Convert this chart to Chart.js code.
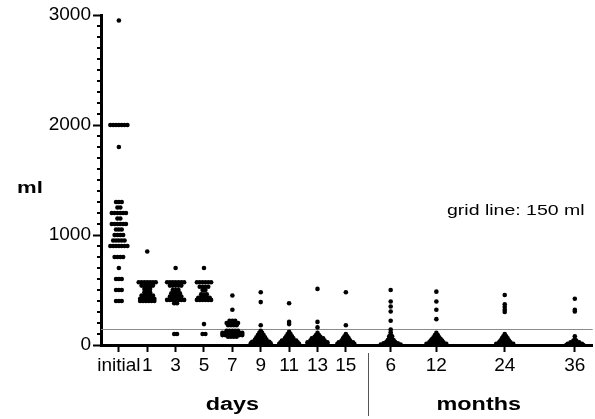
<!DOCTYPE html>
<html>
<head>
<meta charset="utf-8">
<script src="https://cdn.jsdelivr.net/npm/chart.js@4"></script>
<style>
  html, body { margin: 0; padding: 0; background: #fff; }
</style>
</head>
<body>
<canvas id="dotChart" width="595" height="419"></canvas>
<script>
// categories and where they sit along the x axis (day slots are evenly spaced, months are not)
var categories = ['initial', '1', '3', '5', '7', '9', '11', '13', '15', '6', '12', '24', '36'];
var xPos = [0, 1, 2, 3, 4, 5, 6, 7, 8, 9.58, 11.19, 13.6, 16.07];
var daysIdx = [0, 8];
var monthsIdx = [9, 12];

var yTicks = [0, 1000, 2000, 3000];
var refLine = 150;

// volumes in ml
var vInitial = [2950,
  2000, 2000, 2000, 2000, 2000, 2000, 2000,
  1800,
  1300, 1300, 1300,
  1250, 1250,
  1200, 1200, 1200, 1200, 1200, 1200,
  1150, 1150,
  1100, 1100, 1100, 1100, 1100, 1100,
  1050, 1050, 1050,
  1000, 1000, 1000, 1000,
  950, 950, 950, 950, 950,
  900, 900, 900, 900, 900, 900, 900,
  800, 800, 800, 800,
  700,
  600, 600, 600,
  500, 500, 500,
  400, 400, 400];
var vDay1 = [850,
  570, 570, 570, 570, 570, 570, 570,
  540, 540, 540, 540, 540,
  510, 510, 510,
  480, 480, 480,
  450, 450, 450, 450, 450,
  420, 420, 420, 420, 420, 420,
  400, 400, 400, 400, 400, 400];
var vDay3 = [700,
  570, 570, 570, 570, 570, 570, 570,
  540, 540, 540, 540, 540,
  500, 500, 500,
  470, 470, 470, 470,
  440, 440, 440, 440, 440,
  410, 410, 410, 410, 410, 410, 410,
  380, 380,
  100, 100];
var vDay5 = [700,
  570, 570, 570, 570, 570, 570,
  530, 530, 530, 530,
  500, 500,
  460, 460, 460,
  430, 430, 430, 430, 430,
  410, 410, 410, 410, 410, 410,
  190,
  100, 100];
var vDay7 = [450, 320,
  220, 220, 220,
  200, 200, 200, 200, 200,
  180, 180, 180, 180,
  130, 130, 130, 130, 130,
  110, 110, 110, 110, 110, 110, 110, 110,
  90, 90, 90, 90, 90, 90, 90, 90,
  75, 75, 75, 75];
var vDay9 = [480, 390, 180, 130,
  110, 110,
  90, 90, 90,
  70, 70, 70, 70,
  50, 50, 50, 50, 50,
  30, 30, 30, 30, 30, 30, 30,
  15, 15, 15, 15, 15, 15, 15, 15,
  0, 0, 0, 0, 0, 0];
var vDay11 = [380, 210, 190, 120,
  100, 100,
  80, 80, 80,
  60, 60, 60, 60,
  40, 40, 40, 40, 40, 40,
  25, 25, 25, 25, 25, 25, 25,
  10, 10, 10, 10, 10, 10, 10, 10,
  0, 0, 0, 0, 0];
var vDay13 = [510, 210, 160, 110,
  90, 90,
  75, 75, 75,
  60, 60, 60, 60, 60,
  40, 40, 40, 40, 40, 40,
  25, 25, 25, 25, 25, 25, 25, 25,
  10, 10, 10, 10, 10, 10, 10, 10,
  0, 0, 0, 0, 0];
var vDay15 = [480, 180, 100,
  80, 80,
  60, 60, 60,
  40, 40, 40, 40,
  25, 25, 25, 25, 25, 25,
  10, 10, 10, 10, 10, 10, 10,
  0, 0, 0, 0, 0, 0];
var vMonth6 = [500, 395, 350, 305, 220, 140, 115, 95,
  80, 80,
  60, 60,
  45, 45, 45,
  30, 30, 30, 30,
  15, 15, 15, 15, 15, 15,
  5, 5, 5, 5, 5, 5, 5, 5,
  0, 0, 0, 0, 0, 0];
var vMonth12 = [485, 395, 320, 235, 110,
  90, 90,
  70, 70, 70,
  55, 55, 55, 55,
  40, 40, 40, 40, 40,
  25, 25, 25, 25, 25, 25,
  10, 10, 10, 10, 10, 10, 10, 10,
  0, 0, 0, 0, 0, 0];
var vMonth24 = [455, 370, 345, 320, 300, 100,
  80, 80,
  60, 60, 60,
  40, 40, 40, 40,
  25, 25, 25, 25, 25,
  10, 10, 10, 10, 10, 10, 10,
  0, 0, 0, 0, 0, 0];
var vMonth36 = [420, 320, 305, 80, 50,
  40, 40,
  25, 25, 25, 25,
  10, 10, 10, 10, 10, 10,
  0, 0, 0, 0, 0, 0, 0];

var allValues = [vInitial, vDay1, vDay3, vDay5, vDay7, vDay9, vDay11, vDay13, vDay15,
  vMonth6, vMonth12, vMonth24, vMonth36];

var dotStep = 0.1; // horizontal spacing of equal values, in category units

// spread equal values side by side, centred on the category
function spread(xc, vals) {
  var counts = {}, seen = {}, out = [];
  vals.forEach(function (v) { counts[v] = (counts[v] || 0) + 1; });
  vals.forEach(function (v) {
    var i = seen[v] || 0;
    seen[v] = i + 1;
    out.push({ x: xc + (i - (counts[v] - 1) / 2) * dotStep, y: v });
  });
  return out;
}

var points = [];
allValues.forEach(function (vals, i) {
  points = points.concat(spread(xPos[i], vals));
});

var fontName = '"Liberation Sans", Arial, sans-serif';

// text that is a bit wider than the font, like in the original figure
function wideText(ctx, text, x, y, align, sx) {
  ctx.save();
  ctx.translate(x, y);
  ctx.scale(sx, 1);
  ctx.textAlign = align;
  ctx.fillText(text, 0, 0);
  ctx.restore();
}

var decor = {
  id: 'decor',
  beforeDatasetsDraw: function (chart) {
    var ctx = chart.ctx, y = chart.scales.y, a = chart.chartArea;
    ctx.save();
    // the 150 ml reference line
    var gy = Math.round(y.getPixelForValue(refLine)) + 0.5;
    ctx.strokeStyle = '#8a8a8a';
    ctx.lineWidth = 1;
    ctx.beginPath();
    ctx.moveTo(a.left, gy);
    ctx.lineTo(a.right, gy);
    ctx.stroke();
    // minor ticks every 100
    ctx.strokeStyle = '#000';
    ctx.lineWidth = 2;
    for (var v = 100; v < y.max; v += 100) {
      if (v % 1000 === 0) continue;
      var py = Math.round(y.getPixelForValue(v));
      ctx.beginPath();
      ctx.moveTo(a.left - 4, py);
      ctx.lineTo(a.left, py);
      ctx.stroke();
    }
    ctx.restore();
  },
  afterDraw: function (chart) {
    var ctx = chart.ctx, x = chart.scales.x, a = chart.chartArea;
    ctx.save();
    ctx.fillStyle = '#000';
    ctx.textBaseline = 'middle';

    ctx.font = 'bold 17px ' + fontName;
    wideText(ctx, 'ml', 17, 188, 'left', 1.3);

    ctx.font = '15px ' + fontName;
    wideText(ctx, 'grid line: 150 ml', 447, 211, 'left', 1.3);

    ctx.font = 'bold 18px ' + fontName;
    var dx = (x.getPixelForValue(xPos[daysIdx[0]]) + x.getPixelForValue(xPos[daysIdx[1]])) / 2;
    var mx = (x.getPixelForValue(xPos[monthsIdx[0]]) + x.getPixelForValue(xPos[monthsIdx[1]])) / 2;
    wideText(ctx, 'days', dx, 405, 'center', 1.3);
    wideText(ctx, 'months', mx - 4, 405, 'center', 1.3);

    // divider between days and months
    var sx = Math.round((x.getPixelForValue(xPos[daysIdx[1]]) + x.getPixelForValue(xPos[monthsIdx[0]])) / 2) + 0.5;
    ctx.strokeStyle = '#555';
    ctx.lineWidth = 1;
    ctx.beginPath();
    ctx.moveTo(sx, a.bottom + 8);
    ctx.lineTo(sx, 416);
    ctx.stroke();
    ctx.restore();
  }
};

var ctx = document.getElementById('dotChart').getContext('2d');
var myChart = new Chart(ctx, {
  type: 'scatter',
  data: {
    datasets: [{
      data: points,
      backgroundColor: '#000',
      borderWidth: 0,
      pointRadius: 2.3,
      pointHoverRadius: 2.3
    }]
  },
  options: {
    responsive: false,
    animation: false,
    layout: { padding: { top: 15, right: 0, left: 0, bottom: 0 } },
    plugins: { legend: { display: false }, tooltip: { enabled: false } },
    scales: {
      x: {
        type: 'linear',
        min: -0.63,
        max: 16.7,
        afterFit: function (s) { s.height = 74; },
        afterBuildTicks: function (s) {
          s.ticks = xPos.map(function (v) { return { value: v }; });
        },
        ticks: {
          autoSkip: false,
          maxRotation: 0,
          padding: 2,
          color: '#000',
          font: { family: fontName, size: 19 },
          callback: function (v, i) { return categories[i]; }
        },
        grid: { drawOnChartArea: false, tickLength: 7, tickWidth: 2, tickColor: '#000' },
        border: { color: '#000', width: 3 }
      },
      y: {
        min: 0,
        max: 3000,
        afterFit: function (s) { s.width = 101; },
        afterBuildTicks: function (s) {
          s.ticks = yTicks.map(function (v) { return { value: v }; });
        },
        ticks: {
          padding: 2,
          color: '#000',
          font: { family: fontName, size: 19 },
          callback: function (v) { return String(v); }
        },
        grid: { drawOnChartArea: false, tickLength: 8, tickWidth: 2, tickColor: '#000' },
        border: { color: '#000', width: 3 }
      }
    }
  },
  plugins: [decor]
});
</script>
</body>
</html>
